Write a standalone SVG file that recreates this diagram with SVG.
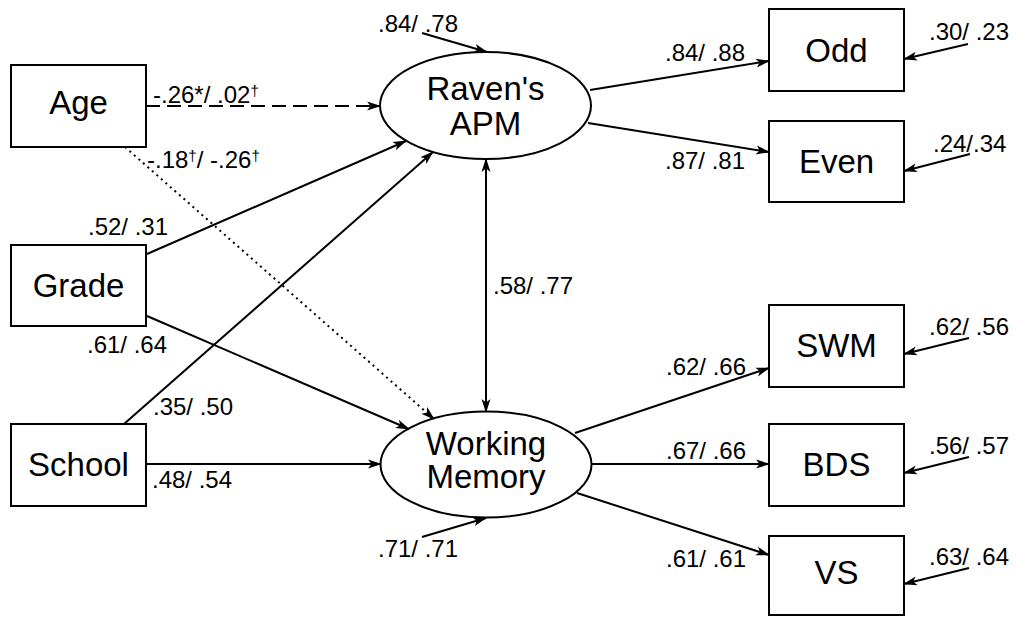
<svg xmlns="http://www.w3.org/2000/svg" width="1017" height="617" viewBox="0 0 1017 617">
<style>
.box{fill:#fff;stroke:#000;stroke-width:2}
.ell{fill:#fff;stroke:#000;stroke-width:2}
.nt{font-family:"Liberation Sans",Arial,sans-serif;font-size:33px;text-anchor:middle;fill:#000}
.lb{font-family:"Liberation Sans",Arial,sans-serif;font-size:24px;fill:#000}
.sup{font-size:15px}
.c{fill:none;stroke:#000;stroke-width:2;marker-end:url(#ah)}
.dash{stroke-dasharray:14 7}
.dot{stroke-dasharray:2 4}
</style>
<defs>
<marker id="ah" markerUnits="userSpaceOnUse" markerWidth="14" markerHeight="10" refX="13" refY="5" orient="auto-start-reverse" viewBox="0 0 14 10">
<path d="M0,0.5 L14,5 L0,9.5 L3.5,5 z" fill="#000"/>
</marker>
</defs>
<rect width="1017" height="617" fill="#fff"/>
<g id="age"><rect class="box" x="11" y="65" width="135" height="82"/><text class="nt" x="78.5" y="114">Age</text></g>
<g id="grade"><rect class="box" x="11" y="245" width="135" height="81"/><text class="nt" x="78.5" y="297">Grade</text></g>
<g id="school"><rect class="box" x="11" y="424" width="135" height="82"/><text class="nt" x="78.5" y="476">School</text></g>
<g id="raven"><ellipse class="ell" cx="485.5" cy="105.5" rx="105.5" ry="53.5"/><text class="nt" x="485.5" y="100">Raven's</text><text class="nt" x="485.5" y="135">APM</text></g>
<g id="wm"><ellipse class="ell" cx="486" cy="464.5" rx="105.5" ry="53"/><text class="nt" x="486" y="455">Working</text><text class="nt" x="486" y="488">Memory</text></g>
<g id="odd"><rect class="box" x="769" y="9" width="135" height="82"/><text class="nt" x="836.5" y="62">Odd</text></g>
<g id="even"><rect class="box" x="769" y="121" width="135" height="81"/><text class="nt" x="836.5" y="173">Even</text></g>
<g id="swm"><rect class="box" x="769" y="305" width="135" height="82"/><text class="nt" x="836.5" y="357">SWM</text></g>
<g id="bds"><rect class="box" x="769" y="424" width="135" height="82"/><text class="nt" x="836.5" y="476">BDS</text></g>
<g id="vs"><rect class="box" x="769" y="536" width="135" height="79"/><text class="nt" x="836.5" y="584">VS</text></g>
<g id="connectors">
<path class="c dash" d="M146,106 L380,106"/>
<path class="c dot" d="M125,147 L434,419"/>
<path class="c" d="M147,254 L406,141"/>
<path class="c" d="M147,316 L409,429"/>
<path class="c" d="M124,424 L433,152"/>
<path class="c" d="M146,464 L381,464"/>
<path class="c" style="marker-start:url(#ah)" d="M486,159 L486,412"/>
<path class="c" d="M590,90 L769,61"/>
<path class="c" d="M588,123 L769,152"/>
<path class="c" d="M575,433 L769,368"/>
<path class="c" d="M592,464 L769,464"/>
<path class="c" d="M577,493 L769,555"/>
<path class="c" d="M422,33 L487,52"/>
<path class="c" d="M422,537 L486,518"/>
<path class="c" d="M968,44 L904,59"/>
<path class="c" d="M970,154 L904,171"/>
<path class="c" d="M969,338 L904,354"/>
<path class="c" d="M969,457 L904,473"/>
<path class="c" d="M969,568 L904,584"/>
</g>
<g id="labels">
<text class="lb" x="153" y="103">-.26*/ .02<tspan class="sup" baseline-shift="7">†</tspan></text>
<text class="lb" x="147" y="168">-.18<tspan class="sup" baseline-shift="7">†</tspan><tspan baseline-shift="0">/ -.26</tspan><tspan class="sup" baseline-shift="7">†</tspan></text>
<text class="lb" x="88" y="235">.52/ .31</text>
<text class="lb" x="87" y="353">.61/ .64</text>
<text class="lb" x="153" y="415">.35/ .50</text>
<text class="lb" x="152" y="488">.48/ .54</text>
<text class="lb" x="378" y="32">.84/ .78</text>
<text class="lb" x="378" y="557">.71/ .71</text>
<text class="lb" x="493" y="294">.58/ .77</text>
<text class="lb" x="665" y="61">.84/ .88</text>
<text class="lb" x="665" y="169">.87/ .81</text>
<text class="lb" x="929" y="40">.30/ .23</text>
<text class="lb" x="933" y="152">.24/.34</text>
<text class="lb" x="666" y="375">.62/ .66</text>
<text class="lb" x="666" y="459">.67/ .66</text>
<text class="lb" x="666" y="567">.61/ .61</text>
<text class="lb" x="929" y="335">.62/ .56</text>
<text class="lb" x="929" y="454">.56/ .57</text>
<text class="lb" x="929" y="565">.63/ .64</text>
</g>
</svg>
